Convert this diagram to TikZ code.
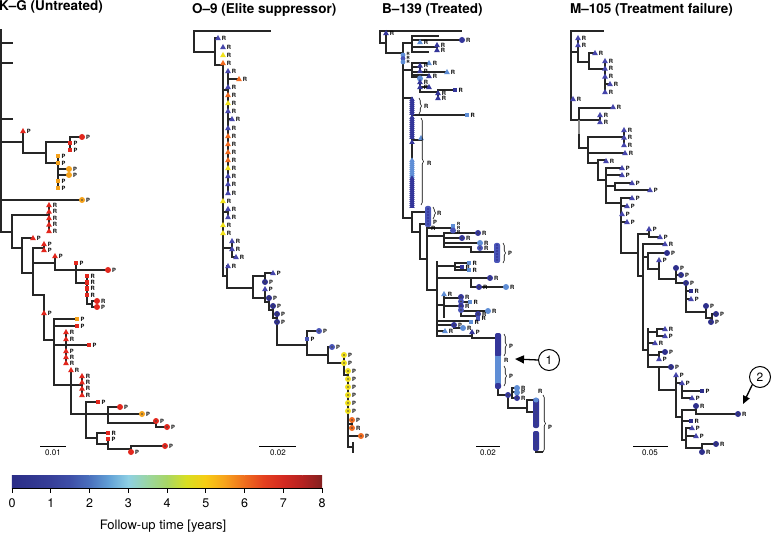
\documentclass[tikz,border=0pt]{standalone}
\usepackage{fontspec}
\setmainfont{TeX Gyre Heros}
\usetikzlibrary{arrows.meta,decorations.pathreplacing}
\definecolor{kred}{HTML}{E2271D}
\definecolor{korng}{HTML}{F5A21B}
\definecolor{yel}{HTML}{F2E21B}
\definecolor{ored}{HTML}{F26B1F}
\definecolor{dblue}{HTML}{34369A}
\definecolor{mblue}{HTML}{4A55B8}
\definecolor{lblue}{HTML}{5F8ED6}
\definecolor{tblue}{HTML}{4646AC}
\definecolor{cblue}{HTML}{2E2F8C}
\definecolor{cbA}{HTML}{2B2D87}
\definecolor{cbB}{HTML}{30368F}
\definecolor{cbC}{HTML}{373F99}
\definecolor{cbD}{HTML}{3E4FA8}
\definecolor{cbE}{HTML}{4A70BD}
\definecolor{cbF}{HTML}{62A0D6}
\definecolor{cbG}{HTML}{8ED0E4}
\definecolor{cbH}{HTML}{9AD6A2}
\definecolor{cbI}{HTML}{A8D665}
\definecolor{cbJ}{HTML}{D8DF22}
\definecolor{cbK}{HTML}{F7CC14}
\definecolor{cbL}{HTML}{F7A21C}
\definecolor{cbM}{HTML}{EF6E1E}
\definecolor{cbN}{HTML}{E4401F}
\definecolor{cbO}{HTML}{D42A21}
\definecolor{cbP}{HTML}{B42221}
\definecolor{cbQ}{HTML}{842020}
\newcount\mylabcount
\newcommand\lab[3]{\global\advance\mylabcount by 1 \node[lbl] (n\the\mylabcount) at (#1,#2) {#3};}
\newcommand\labs[3]{\global\advance\mylabcount by 1 \node[lblsm] (n\the\mylabcount) at (#1,#2) {#3};}
\newcommand\mT[4]{\fill[#3] (#1,#2-3) -- (#1+2.9,#2+2.1) -- (#1-2.9,#2+2.1) -- cycle; \lab{#1+3.6}{#2}{#4}}
\newcommand\mS[4]{\fill[#3] (#1-2.4,#2-2.4) rectangle (#1+2.4,#2+2.4); \lab{#1+3.4}{#2}{#4}}
\newcommand\mC[4]{\fill[#3] (#1,#2) circle[radius=3pt]; \lab{#1+3.8}{#2}{#4}}
\newcommand\mD[4]{\fill[#3] (#1,#2) circle[radius=3pt]; \fill[black!75] (#1,#2) circle[radius=0.9pt]; \lab{#1+3.8}{#2}{#4}}
\newcommand\tT[3]{\fill[#3] (#1,#2-2.6) -- (#1+2.7,#2+1.8) -- (#1-2.7,#2+1.8) -- cycle;}
\begin{document}
\begin{tikzpicture}[x=1pt,y=-1pt,
  br/.style={line width=1.1pt, draw=black!85, line cap=rect},
  lbl/.style={font=\fontsize{5.8}{5.8}\selectfont\bfseries, anchor=west, inner sep=0pt},
  lblsm/.style={font=\fontsize{4.3}{4.3}\selectfont\bfseries, anchor=west, inner sep=0pt},
  ttl/.style={font=\fontsize{13.5}{13.5}\selectfont\bfseries, inner sep=0pt},
  scl/.style={font=\fontsize{8}{8}\selectfont, inner sep=0pt},
  brc/.style={draw=black, line width=0.6pt, decorate, decoration={brace, amplitude=2.5pt}},
  numcirc/.style={circle, draw=black, line width=1pt, minimum size=21pt, inner sep=0pt, font=\fontsize{12}{12}\selectfont}]
\useasboundingbox (0,0) rectangle (773,534);
\fill[white] (0,0) rectangle (773,534);

% ---------- titles ----------
\node[ttl, anchor=base west] (t1) at (-1,10.5) {K\textendash G (Untreated)};
\node[ttl, anchor=base west] (t2) at (192,14) {O\textendash 9 (Elite suppressor)};
\node[ttl, anchor=base west] (t3) at (382,14) {B\textendash 139 (Treated)};
\node[ttl, anchor=base west] (t4) at (570,14) {M\textendash 105 (Treatment failure)};

% ---------- K-G ----------
\draw[br] (1,30)--(1,232)--(12,232)
 (1,43)--(12,43) (1,63)--(12,63) (1,119)--(12,119)
 (1,142)--(23,142) (23,131)--(23,153)--(46,153) (46,142)--(46,163)
 (46,142)--(70,142) (70,137)--(70,150) (70,137)--(82,137)
 (46,163)--(58,163) (58,156)--(58,188) (58,169)--(69,169) (58,175)--(69,175)
 (1,200)--(82,200)
 (12,215)--(12,248) (12,215)--(49,215) (49,205)--(49,231)
 (12,248)--(22,248) (22,238)--(22,273)--(33,273) (22,238)--(33,238)
 (33,248)--(33,295) (33,248)--(44,248) (44,244)--(44,250)
 (33,263)--(55,263) (55,256)--(55,270)--(108,270)
 (76,263)--(76,283)--(87,283) (87,276)--(87,304)--(92,304) (92,301)--(92,307) (92,301)--(97,301) (92,307)--(97,307)
 (33,295)--(44,295) (44,295)--(44,340)--(54,340) (54,319)--(54,385)
 (54,319)--(77,319) (54,326)--(77,326) (54,345)--(66,345) (66,332)--(66,363) (66,345)--(89,345)
 (54,385)--(71,385) (71,370)--(71,414) (71,385)--(82,385) (82,376)--(82,395)
 (71,414)--(86,414) (86,402)--(86,438) (86,402)--(98,402) (86,414)--(108,414) (108,407)--(108,423)
 (108,407)--(120,407) (108,414)--(142,414) (108,423)--(156,423) (156,421)--(156,427)--(167,427)
 (86,438)--(97,438) (97,433)--(97,444)--(108,444) (97,433)--(108,433) (108,439)--(108,449)--(131,449)
 (131,446)--(131,452) (131,446)--(165,446);
\mT{23}{131}{kred}{P}
\mC{82}{137}{kred}{P} \mS{70}{143}{kred}{P} \mS{70}{150}{kred}{P}
\mS{58}{156}{korng}{P} \mS{58}{163}{korng}{P} \mC{69}{169}{korng}{P} \mC{69}{175}{korng}{P}
\mS{58}{181}{korng}{P} \mS{58}{188}{korng}{P}
\mD{82}{200}{korng}{P}
\foreach \yy in {205,211.5,218,224.5,231} {\mT{49}{\yy}{kred}{R}}
\mT{33}{238}{kred}{P} \mT{44}{244}{kred}{P} \mT{44}{250}{kred}{P}
\mT{55}{256}{kred}{P} \mS{76}{263}{kred}{P} \mC{108}{270}{kred}{P}
\foreach \yy in {276,282.3,288.6,295} {\mS{87}{\yy}{kred}{R}}
\mC{97}{301}{kred}{R} \mC{97}{307}{kred}{P}
\mT{44}{313}{kred}{P}
\mS{77}{319}{korng}{P} \mS{77}{326}{kred}{P}
\mT{66}{332}{kred}{R} \mT{66}{339}{kred}{R} \mS{89}{345}{kred}{P}
\mT{66}{351}{kred}{P} \mT{66}{357}{kred}{R} \mT{66}{363}{kred}{R}
\mT{71}{370}{kred}{R}
\foreach \yy in {376,382.3,388.6,395} {\mT{82}{\yy}{kred}{R}}
\mS{98}{402}{kred}{P} \mC{120}{407}{kred}{P} \mD{142}{414}{korng}{P}
\mD{156}{421}{kred}{P} \mD{167}{427}{kred}{P}
\mS{108}{433}{kred}{R} \mS{108}{439}{kred}{P}
\mC{131}{452}{kred}{P} \mD{165}{446}{kred}{P}
\draw[line width=0.9pt] (40,446) coordinate (sa1) -- (66,446) coordinate (sa2);
\node[scl] (s1) at (53,453) {0.01};

% ---------- O-9 ----------
\draw[br] (194,31)--(270,31) (194,31)--(194,52)--(215,52) (215,38)--(215,65)--(223,65) (215,38)--(218,38)
 (223,65)--(223,276)--(227,276) (227,266)--(227,288)--(253,288)
 (223,90)--(228,90) (228,71)--(228,193) (228,79)--(239,79) (228,119)--(232,119)
 (223,212)--(228,212) (228,209)--(228,217)
 (223,248)--(232,248) (232,241)--(232,257)--(236,257)
 (253,276)--(253,298) (253,276)--(265,276) (265,273)--(265,282) (265,273)--(273,273)
 (253,298)--(265,298) (265,289)--(265,302)--(269,302) (269,298)--(269,310)--(273,310)
 (273,306)--(273,318)--(277,318) (277,314)--(277,345)
 (277,345)--(307,345) (307,331)--(307,355) (307,331)--(319,331) (307,355)--(328,355)
 (328,347)--(328,363)--(344,363) (328,347)--(332,347)
 (344,355)--(344,375)--(348,375) (348,371)--(348,447)--(353,447) (353,443)--(353,452)
 (348,424)--(352,424) (352,420)--(352,428) (348,436)--(361,436);
\mT{218}{38}{tblue}{R}
\mT{223}{47}{tblue}{R} \mT{223}{55}{yel}{R} \mT{223}{63}{ored}{R}
\mT{228}{71}{tblue}{R} \mT{239}{79}{ored}{R} \mT{228}{87}{tblue}{R} \mT{228}{95}{ored}{R}
\mT{228}{103}{yel}{R} \mT{228}{111}{tblue}{R} \mT{232}{119}{tblue}{R} \mT{228}{128}{tblue}{R}
\mT{228}{136}{ored}{R} \mT{228}{144}{ored}{R} \mT{228}{152}{ored}{R} \mT{228}{160}{ored}{R}
\mT{228}{168}{yel}{R} \mT{228}{176}{tblue}{R} \mT{228}{184}{tblue}{R} \mT{228}{193}{tblue}{R}
\mT{223}{201}{yel}{R} \mT{228}{209}{tblue}{R} \mT{228}{217}{tblue}{R}
\mT{223}{225}{yel}{R} \mT{223}{233}{yel}{R}
\mT{232}{241}{tblue}{R} \mT{232}{249}{tblue}{R} \mT{236}{257}{tblue}{R} \mT{228}{266}{tblue}{R}
\mT{273}{273}{tblue}{P} \mD{265}{282}{cblue}{P} \mT{265}{289}{tblue}{P}
\mD{269}{298}{cblue}{P} \mD{273}{306}{cblue}{P} \mD{277}{314}{cblue}{P} \mD{277}{322}{cblue}{P}
\mD{319}{331}{mblue}{P} \mS{307}{339}{mblue}{P} \mD{332}{347}{mblue}{P}
\mD{344}{355}{yel}{P} \mD{344}{363}{yel}{P}
\foreach \yy in {371,379,387,395,403,411} {\mD{348}{\yy}{yel}{P}}
\mD{352}{420}{ored}{P} \mD{352}{428}{ored}{R} \mD{361}{436}{ored}{P}
\draw[line width=0.9pt] (259,446) coordinate (sb1) -- (296,446) coordinate (sb2);
\node[scl] (s2) at (278,453) {0.02};

% ---------- B-139 ----------
\draw[br] (380,31)--(461,31) (380,31)--(380,43)--(386,43) (386,33)--(386,53)--(403,53) (403,43)--(403,218)
 (403,43)--(412,43) (412,36)--(412,52) (412,36)--(438,36) (412,40)--(462,40) (412,47)--(437,47) (437,45)--(437,49) (412,52)--(428,52)
 (403,70)--(412,70) (412,63)--(412,77) (412,63)--(429,63) (412,67)--(420,67) (420,65)--(420,71) (412,72)--(447,72) (412,75)--(429,75) (412,77)--(420,77)
 (420,77)--(420,92) (420,87)--(429,87) (420,92)--(438,92) (438,90)--(438,97) (438,90)--(455,90)
 (403,98)--(412,98) (412,98)--(412,207)
 (412,115)--(467,115) (412,140)--(421,140)
 (403,218)--(412,218) (412,212)--(412,232) (412,212)--(428,212) (412,232)--(420,232) (420,224)--(420,259) (420,224)--(428,224)
 (420,259)--(427,259) (427,228)--(427,290)
 (427,228)--(453,228) (453,226)--(453,230) (427,236)--(444,236) (444,233)--(444,247)
 (444,233)--(478,233) (444,238)--(462,238) (444,243)--(480,243) (480,243)--(480,247)
 (444,247)--(471,247)--(471,252)--(497,252)
 (427,290)--(437,290) (437,262)--(437,336)
 (437,266)--(455,266) (455,263)--(455,270) (455,263)--(469,263) (455,267)--(462,267) (455,270)--(469,270)
 (437,278)--(490,278) (471,278)--(471,287)--(506,287)
 (437,305)--(444,305) (444,294)--(444,317) (444,298)--(461,298) (461,297)--(461,301)
 (444,306)--(461,306) (461,303)--(461,316) (461,302)--(469,302) (461,311)--(488,311) (461,316)--(478,316) (478,314)--(478,318)
 (437,321)--(471,321) (437,325)--(454,325) (454,325)--(454,328)--(463,328) (437,331)--(445,331)
 (437,336)--(472,336) (472,332)--(472,338)--(498,338)
 (498,388)--(498,395)--(508,395) (508,395)--(512,395) (512,388)--(512,398) (512,388)--(517,388) (512,392)--(517,392) (512,398)--(517,398)
 (508,395)--(508,408)--(527,408) (527,400)--(527,412) (527,400)--(536,400) (527,412)--(536,412)
 (536,452)--(542,452);
\mT{386}{33}{dblue}{R}
\mT{420}{42}{lblue}{R} \mT{437}{45}{dblue}{R} \mT{437}{50}{dblue}{R} \mC{462}{40}{dblue}{R}
\fill[lblue] (403,55) circle[radius=2.4pt]; \fill[mblue] (403,58.5) circle[radius=2.4pt]; \fill[lblue] (403,62) circle[radius=2.4pt];
\labs{406.5}{54}{R} \labs{406.5}{58}{R} \labs{406.5}{62}{R}
\mT{429}{63}{lblue}{R} \mT{420}{65.5}{dblue}{R} \mT{420}{71}{dblue}{P} \mT{447}{72}{lblue}{R} \mT{429}{76}{dblue}{R}
\mC{420}{78.5}{lblue}{} \mT{420}{82}{dblue}{R} \mT{420}{87}{dblue}{R} \mT{429}{87}{dblue}{}
\mS{455}{90}{dblue}{R} \mT{438}{93}{dblue}{R} \mT{438}{98}{dblue}{R}
\foreach \yy in {99,101,...,113} {\tT{412}{\yy}{dblue}}
\draw[brc] (419,98)--(419,114); \lab{424}{106}{R}
\mS{467}{115}{lblue}{R}
\foreach \yy in {117,119,...,137} {\tT{412}{\yy}{dblue}}
\mT{421}{138}{lblue}{} \tT{412}{142}{dblue}
\foreach \yy in {160,162,...,176} {\tT{412}{\yy}{lblue}}
\foreach \yy in {178,180,...,206} {\tT{412}{\yy}{dblue}}
\draw[brc] (421,118)--(421,205); \lab{427}{163}{R}
\fill[mblue, rounded corners=2pt] (425,206) rectangle (431,227);
\foreach \yy in {209,212,...,225} {\fill[dblue] (428,\yy) circle[radius=1.1pt];}
\draw[brc] (433,207)--(433,219); \lab{437}{213}{R} \lab{433}{222}{P} \lab{431}{228}{R}
\mS{453}{226}{lblue}{} \mC{453}{230.5}{mblue}{}
\labs{457}{224}{R} \labs{457}{228}{R} \labs{457}{232}{R}
\mD{478}{233}{dblue}{R} \mD{462}{238}{dblue}{R} \mC{480}{243}{lblue}{R} \mD{480}{248}{mblue}{R}
\fill[mblue, rounded corners=2pt] (494,243) rectangle (500,263);
\foreach \yy in {245,248,...,262} {\fill[dblue] (497,\yy) circle[radius=1.1pt];}
\draw[brc] (503,243)--(503,263); \lab{508}{253}{P}
\mS{469}{263}{lblue}{R} \mS{462}{267}{dblue}{R} \mS{469}{270}{lblue}{R}
\mD{490}{278}{dblue}{R} \mD{479}{287}{dblue}{R} \mC{506}{287}{lblue}{R}
\mT{444}{294}{lblue}{R}
\mD{461}{297}{dblue}{R} \mD{461}{301.5}{mblue}{} \mS{470}{302}{lblue}{R}
\mD{461}{306}{dblue}{R} \mD{461}{310}{mblue}{} \mC{488}{311}{lblue}{R}
\mD{478}{314}{dblue}{R} \mS{478}{318.5}{mblue}{R}
\mS{471}{322}{lblue}{R} \mD{454}{325}{dblue}{P} \mC{463}{328}{lblue}{R}
\mT{445}{331}{lblue}{R} \mT{472}{332}{dblue}{P}
\fill[dblue, rounded corners=2pt] (495,333) rectangle (501,357);
\fill[lblue] (495,356) rectangle (501,384);
\fill[dblue, rounded corners=2pt] (495,383) rectangle (501,389);
\draw[brc] (504,334)--(504,356); \lab{509}{346}{P}
\lab{504}{360}{R}
\draw[brc] (504,366)--(504,386); \lab{509}{376}{P}
\mD{508}{395}{dblue}{} \mC{517}{388}{lblue}{R} \mC{517}{392.5}{lblue}{P} \mD{517}{398}{dblue}{R}
\fill[dblue, rounded corners=2pt] (533,398) rectangle (539,428);
\fill[dblue, rounded corners=2pt] (533,431) rectangle (539,451);
\fill[lblue] (536,400) circle[radius=2.6pt];
\foreach \yy in {403,406,...,427,433,436,...,450} {\fill[black!70] (536,\yy) circle[radius=0.7pt];}
\lab{538}{391}{R}
\draw[brc] (543,395)--(543,452); \lab{548}{427}{P}
\draw[line width=0.9pt] (476,446) coordinate (sc1) -- (500,446) coordinate (sc2);
\node[scl] (s3) at (488,453) {0.02};
\node[numcirc] (c1) at (549,360) {1};
\coordinate (a1) at (515,359);
\draw[line width=1.3pt, -{Triangle[length=9pt,width=8pt]}] (c1.west) -- (a1);

% ---------- M-105 ----------
\draw[br] (571,31)--(603,31) (571,31)--(571,120)--(579,120)
 (571,52)--(578,52) (578,38)--(578,62) (578,62)--(589,62) (589,53)--(589,69) (589,53)--(595,53) (589,69)--(605,69) (605,61)--(605,92) (605,84)--(610,84)
 (579,108)--(579,148) (579,108)--(613,108) (579,120)--(600,120) (600,115)--(600,123)
 (579,148)--(588,148) (588,137)--(588,163) (588,137)--(624,137) (624,130)--(624,145) (588,153)--(625,153)
 (588,163)--(598,163) (598,160)--(598,180) (598,160)--(606,160) (598,180)--(606,180) (606,168)--(606,203)
 (606,168)--(622,168) (606,175)--(622,175) (606,186)--(615,186) (615,183)--(615,190) (615,183)--(632,183) (615,190)--(650,190)
 (606,203)--(621,203) (621,198)--(621,253) (621,198)--(632,198) (621,206)--(627,206) (621,222)--(627,222)
 (621,253)--(638,253) (638,234)--(638,276) (638,234)--(649,234) (649,229)--(649,237)--(660,237)
 (638,276)--(643,276) (643,244)--(643,350) (643,244)--(665,244)
 (643,257)--(648,257) (648,253)--(648,269) (648,253)--(667,253) (648,269)--(659,269) (659,260)--(659,279)--(676,279)
 (676,268)--(676,283)--(686,283) (676,275)--(681,275) (686,283)--(686,312)--(706,312) (686,291)--(691,291) (686,299)--(691,299)
 (706,306)--(706,318)--(712,318) (712,314)--(712,322) (712,314)--(716,314) (712,322)--(711,322)
 (643,350)--(648,350) (648,329)--(648,367)
 (648,332)--(657,332) (657,329)--(657,336) (657,329)--(665,329) (657,336)--(665,336)
 (648,343)--(655,343) (648,355)--(659,355) (659,352)--(659,359) (659,352)--(665,352)
 (648,367)--(671,367) (659,367)--(659,390)--(676,390)
 (676,375)--(676,417) (676,383)--(682,383) (682,383)--(682,398) (682,391)--(702,391) (682,398)--(692,398)
 (676,417)--(682,417) (682,410)--(682,440) (682,410)--(696,410) (696,406)--(696,414) (696,414)--(738,414)
 (682,421)--(691,421) (682,440)--(686,440) (686,428)--(686,448) (686,428)--(692,428) (686,436)--(696,436)
 (686,448)--(702,448) (702,444)--(702,452) (702,444)--(716,444);
\draw[line width=2.6pt, black!85] (571,52)--(571,82);
\draw[line width=2.6pt, black!45] (579,120)--(579,134);
\mT{578}{38}{tblue}{R} \mT{578}{45}{tblue}{R} \mT{595}{53}{tblue}{R}
\mT{605}{61}{tblue}{R} \mT{605}{68.5}{tblue}{R} \mT{605}{76.5}{tblue}{R} \mT{610}{84}{tblue}{R} \mT{605}{92}{tblue}{R}
\mT{573}{99}{tblue}{R}
\mT{613}{107}{tblue}{R} \mT{600}{115}{tblue}{R} \mT{600}{122}{tblue}{R}
\mT{624}{130}{tblue}{R} \mT{624}{137.5}{tblue}{R} \mT{624}{145}{tblue}{R} \mT{625}{153}{tblue}{R}
\mT{606}{161}{tblue}{R}
\mT{622}{168}{tblue}{P} \mT{622}{175}{tblue}{P} \mT{632}{183}{tblue}{P} \mT{650}{190}{tblue}{P}
\mT{632}{198}{tblue}{P} \mT{627}{206}{tblue}{P} \mT{622}{214}{tblue}{P} \mT{627}{222}{tblue}{P}
\mT{649}{229}{tblue}{P} \mT{660}{237}{tblue}{P} \mT{665}{244}{tblue}{R}
\mC{667}{253}{cblue}{P} \mT{659}{260}{tblue}{P}
\mC{676}{268}{cblue}{P} \mD{681}{275}{cblue}{P} \mD{686}{283}{cblue}{P}
\mS{691}{291}{cblue}{R} \mT{691}{299}{tblue}{P}
\mC{706}{306}{cblue}{P} \mD{716}{314}{cblue}{P} \mD{711}{322}{cblue}{P}
\mT{665}{329}{tblue}{R} \mT{665}{336}{tblue}{P} \mT{655}{343}{tblue}{R}
\mC{665}{352}{cblue}{P} \mT{659}{359}{tblue}{P} \mD{671}{367}{cblue}{P}
\mT{676}{375}{tblue}{P} \mT{682}{383}{tblue}{P} \mS{702}{391}{cblue}{P} \mT{692}{398}{tblue}{P}
\mC{696}{406}{cblue}{R} \mD{738}{414}{cblue}{R}
\mS{691}{421}{cblue}{R} \mT{692}{428}{tblue}{P} \mT{696}{436}{tblue}{P}
\mD{716}{444}{cblue}{R} \mC{702}{452}{cblue}{R}
\draw[line width=0.9pt] (633,446) coordinate (sd1) -- (668,446) coordinate (sd2);
\node[scl] (s4) at (650,453) {0.05};
\node[numcirc] (c2) at (760,377) {2};
\coordinate (a2) at (743,404);
\draw[line width=1.3pt, -{Triangle[length=8pt,width=7pt]}] (c2.225) -- (a2);

% ---------- colour bar ----------
\foreach \ca/\cb [count=\i from 0] in {cbA/cbB,cbB/cbC,cbC/cbD,cbD/cbE,cbE/cbF,cbF/cbG,cbG/cbH,cbH/cbI,cbI/cbJ,cbJ/cbK,cbK/cbL,cbL/cbM,cbM/cbN,cbN/cbO,cbO/cbP,cbP/cbQ}
  {\shade[left color=\ca, right color=\cb] (12+\i*19.375-0.2,475) rectangle (12+\i*19.375+19.375,488);}
\draw[line width=0.9pt] (12,488) coordinate (cb0) -- (322,488) coordinate (cb8);
\foreach \k in {0,...,8} {
  \draw[line width=0.9pt] (12+\k*38.75,488) -- (12+\k*38.75,493);
  \node[font=\fontsize{12.5}{12.5}\selectfont, inner sep=0pt] (tk\k) at (12+\k*38.75,503) {\k};
}
\node[font=\fontsize{13}{13}\selectfont, inner sep=0pt] (cbt) at (163,526) {Follow-up time [years]};
\end{tikzpicture}
\end{document}
